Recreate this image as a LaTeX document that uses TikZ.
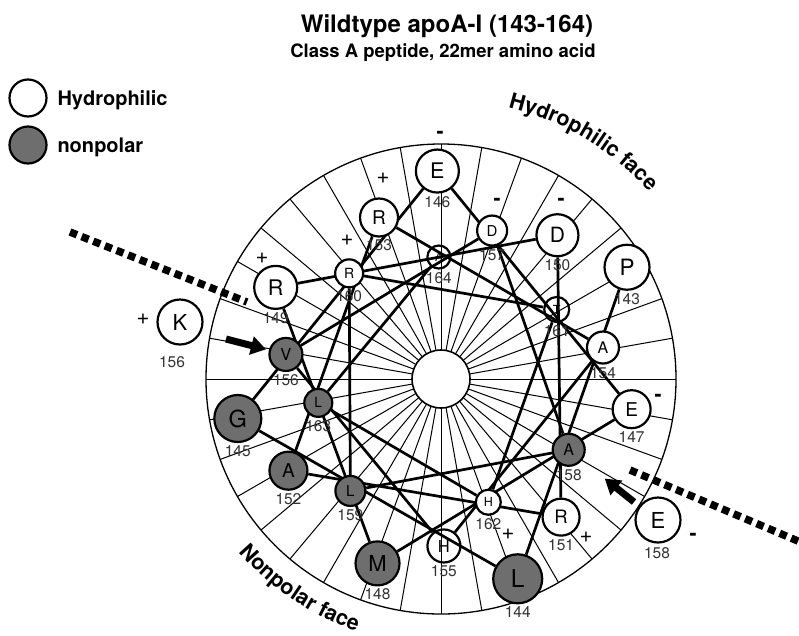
\documentclass[tikz,border=0pt]{standalone}
\usepackage{fontspec}
\setmainfont{TeX Gyre Heros}
\usetikzlibrary{arrows.meta, calc, decorations.text}
\definecolor{cgrey}{HTML}{6E6E6E}
\definecolor{cnum}{HTML}{333333}
\pgfdeclarelayer{wheel}
\pgfdeclarelayer{chords}
\pgfsetlayers{wheel,chords,main}
\tikzset{
  every picture/.style={line width=1pt},
  res/.style={circle, draw=black, line width=2.2pt, fill=#1, inner sep=0pt},
  res/.default=white,
  spoke/.style={line width=1pt},
  chord/.style={line width=2.7pt},
  num/.style={font=\fontsize{15.5}{15.5}\selectfont, text=cnum, inner sep=0pt},
  charge/.style={font=\fontsize{22}{22}\selectfont, inner sep=0pt},
  minus/.style={font=\fontsize{21}{21}\selectfont\bfseries, inner sep=0pt},
  facesep/.style={line width=7.5pt, dash pattern=on 7.5pt off 5pt},
  fatarrow/.style={-{Triangle[length=15pt,width=18pt]}, line width=7pt},
  legend/.style={font=\fontsize{20}{20}\selectfont\bfseries, anchor=base west, inner sep=0pt},
}

\begin{document}
\begin{tikzpicture}[x=1pt, y=-1pt]
  \useasboundingbox (0,0) rectangle (799,635);
  \node[font=\fontsize{24}{24}\selectfont\bfseries, anchor=base] (title) at (447,32) {Wildtype apoA-I (143-164)};
  \node[font=\fontsize{18.5}{18.5}\selectfont\bfseries, anchor=base] (subtitle) at (443,57) {Class A peptide, 22mer amino acid};
  % legend
  \node[res, minimum size=37pt] (lhyd) at (28,98) {};
  \node[res=cgrey, minimum size=37pt] (lnp) at (28,145) {};
  \node[legend] (lhydt) at (57,105) {Hydrophilic};
  \node[legend] (lnpt) at (57,152) {nonpolar};
  % wheel
  \begin{scope}[shift={(441,379)}]
    \begin{pgfonlayer}{wheel}
      \foreach \t in {0,10,...,350}
        \draw[spoke] (\t:29pt) -- (\t:235pt);
      \draw[line width=1.3pt] (0,0) circle[radius=235pt];
      \draw[line width=1.6pt, fill=white] (0,0) circle[radius=29pt];
    \end{pgfonlayer}
    \foreach \n/\aa/\sz/\rad/\fc in {143/P/22.5/217/white, 144/L/24.5/214/cgrey, 145/G/23.5/207/cgrey,
        146/E/21.5/208/white, 147/E/19/193/white, 148/M/22/195/cgrey, 149/R/21.5/189/white,
        150/D/21/185/white, 151/R/18.5/183/white, 152/A/19/178/cgrey, 153/R/19/173/white,
        154/A/16/165/white, 155/H/16.5/167/none, 156/V/16.5/157/cgrey, 157/D/15/157/white,
        158/A/16/146/cgrey, 159/L/15/144/cgrey, 160/R/14/140/white, 161/T/12.5/135/none,
        162/H/12.5/132/white, 163/L/14/125/cgrey, 164/A/11.5/122/none} {
      \pgfmathsetmacro\ang{31-100*(\n-143)}
      \node[res=\fc, minimum size=2*\sz pt, font=\fontsize{\sz}{\sz}\selectfont] (r\n) at (\ang:\rad pt) {\aa};
      \node[num] (n\n) at ([yshift=-8pt]r\n.south) {\n};
    }
  \end{scope}
  \begin{pgfonlayer}{chords}
    \foreach \n [evaluate=\n as \m using int(\n+1)] in {143,...,163}
      \draw[chord] (r\n) -- (r\m);
  \end{pgfonlayer}
  % charges
  \foreach \nm/\px/\py in {149/262/258, 153/383/178, 160/347/240, 151/586/537, 162/508/534}
    \node[charge] (q\nm) at (\px,\py) {+};
  \foreach \nm/\px/\py in {146/440/135, 147/658/398, 150/561/202, 157/497/202}
    \node[minus] (q\nm) at (\px,\py) {-};
  % substituted residues
  \node[res, minimum size=45pt, font=\fontsize{22}{22}\selectfont] (sK) at (180,322) {K};
  \node[charge] (qK) at (143,319) {+};
  \node[num] (nK) at (172,362) {156};
  \node[res, minimum size=45pt, font=\fontsize{22}{22}\selectfont] (sE) at (658,520) {E};
  \node[minus] (qE) at (693,537) {-};
  \node[num] (nE) at (657,553) {158};
  \coordinate (tailV) at (226,339);
  \coordinate (tailA) at (634,502);
  \draw[fatarrow, shorten >=3pt] (tailV) -- (r156);
  \draw[fatarrow, shorten >=29pt] (tailA) -- (r158);
  % face boundaries
  \coordinate (sepA1) at (70,232);
  \coordinate (sepA2) at (247,302);
  \coordinate (sepB1) at (630,470);
  \coordinate (sepB2) at (805,544);
  \draw[facesep] (sepA1) -- (sepA2);
  \draw[facesep] (sepB1) -- (sepB2);
  \path[decorate, decoration={text along path, text align=center,
      text={|\fontsize{21.5}{21.5}\selectfont\bfseries|Hydrophilic face}}]
    (441,379) ++(90:280pt) arc[start angle=90, end angle=28, radius=280pt];
  \path[decorate, decoration={text along path, text align=center,
      text={|\fontsize{21.5}{21.5}\selectfont\bfseries|Nonpolar face}}]
    (441,379) ++(204:266pt) arc[start angle=204, end angle=268, radius=266pt];
\end{tikzpicture}
\end{document}
